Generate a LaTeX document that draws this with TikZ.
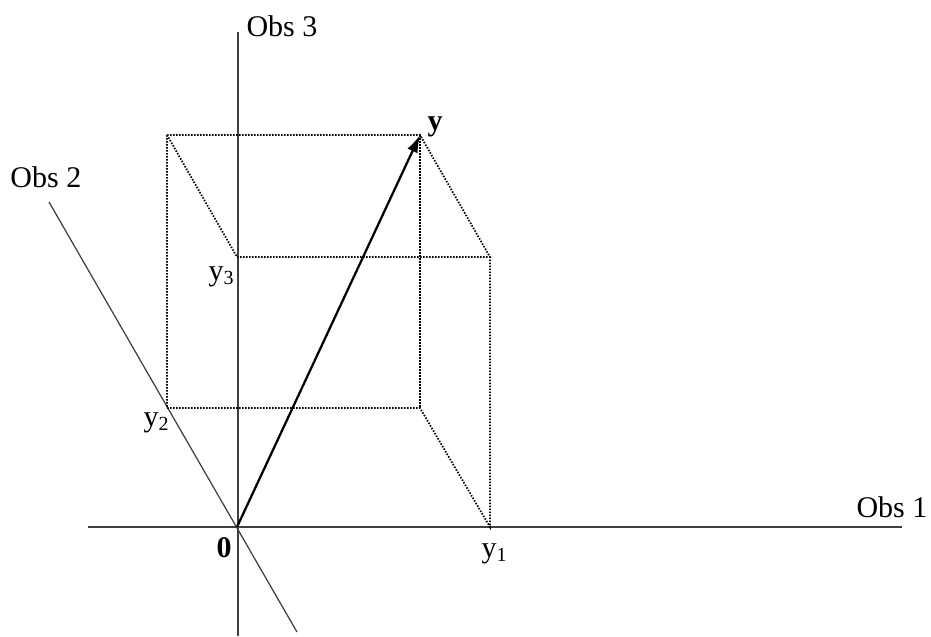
\documentclass[tikz,border=0pt]{standalone}
\usepackage{fontspec}
\setmainfont{Liberation Serif}
\usepackage{tikz}
\usetikzlibrary{arrows.meta, positioning, calc}
\definecolor{axgray}{HTML}{404040}
\tikzset{
  axis/.style={draw=axgray, line width=0.5pt},
  dotline/.style={draw=black, line width=0.7pt, dash pattern=on 0.6pt off 0.6pt},
  vec/.style={-{Latex[length=7pt, width=4.5pt]}, line width=0.9pt},
  lbl/.style={anchor=base west, inner sep=0pt, font=\fontsize{12}{14}\selectfont},
}

\begin{document}
\begin{tikzpicture}[x=0.4pt, y=-0.4pt]
  \useasboundingbox (0,0) rectangle (931,636);
  % axes
  \coordinate (O) at (237,527);
  \coordinate (e1a) at (88,527);
  \coordinate (e1b) at (902,527);
  \coordinate (e3a) at (238,32);
  \coordinate (e3b) at (238,636);
  \coordinate (e2a) at (49,202);
  \coordinate (e2b) at (297,632);
  \draw[axis] (e1a) -- (e1b);
  \draw[axis] (e3a) -- (e3b);
  \draw[axis] (e2a) -- (e2b);

  % box corners
  \coordinate (Y)  at (420,135);
  \coordinate (bk) at (167,135);
  \coordinate (y3) at (237,257);
  \coordinate (fr) at (490,257);
  \coordinate (y2) at (167,408);
  \coordinate (bb) at (420,408);
  \coordinate (y1) at (490,527);
  \draw[dotline] (bk) -- (Y) -- (fr) -- (y3) -- cycle;
  \draw[dotline] (bk) -- (y2) -- (bb) -- (y1) -- (fr);
  \draw[dotline] (Y) -- (bb);

  % vector
  \draw[vec] (O) -- (Y);

  % labels
  \node[lbl] (l3) at (246,36) {Obs 3};
  \node[lbl] (l2) at (10,187) {Obs 2};
  \node[lbl] (l1) at (856,517) {Obs 1};
  \node[lbl] (ly) at (427,130) {\textbf{y}};
  \node[lbl] (ly3) at (208,280) {y\textsubscript{3}};
  \node[lbl] (ly2) at (143,426) {y\textsubscript{2}};
  \node[lbl] (lo) at (216,557) {\textbf{0}};
  \node[lbl] (ly1) at (481,557) {y\textsubscript{1}};
\end{tikzpicture}
\end{document}
